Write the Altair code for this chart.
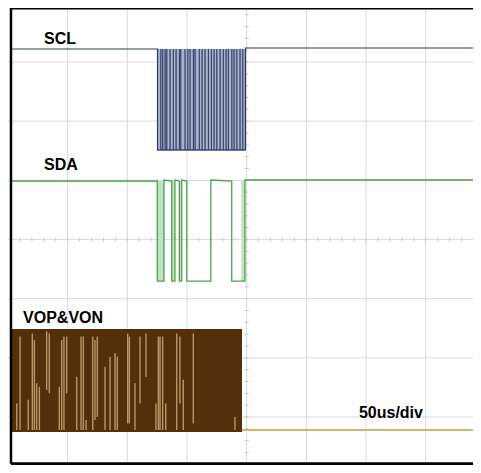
import altair as alt
import pandas as pd

# ---- scope geometry (time in us, vertical in divisions) ----
T_MAX = 389.7
Y_MAX = 7.912
Y_MIN = 0.189
grid_t = [50, 100, 150, 200, 250, 300, 350]
grid_v = [1, 2, 3, 4, 5, 6, 7]
frame_left_t = 2.5
frame_bottom_v = 0.21

# ---- SCL ----
scl_hi_before, scl_hi_after, scl_lo = 7.219, 7.236, 5.512
scl_fall, scl_rise = 125.3, 199.0
scl_pulses = [128.0, 129.6, 131.6, 133.0, 135.8, 138.5, 140.8, 143.6, 144.7, 148.3,
              150.6, 152.5, 155.3, 156.7, 160.3, 162.6, 165.1, 167.9, 170.4, 172.6,
              174.9, 177.7, 180.4, 182.7, 184.6, 187.5, 189.4, 191.7, 194.4, 196.7]

# ---- SDA ----
sda_hi_before, sda_hi_after, sda_lo = 4.988, 5.005, 3.298
sda_low_start = [125.1, 137.2, 143.6, 149.8, 187.5]
sda_low_end = [130.7, 139.9, 145.6, 170.0, 198.6]
sda_fill_start = [125.1, 137.2, 143.6, 195.5]
sda_fill_end = [130.7, 139.9, 145.6, 198.6]

# ---- VOP&VON ----
vop_top, vop_bot, vop_end, vop_after = 2.487, 0.746, 196.1, 0.78
vop_line_t = [7.3, 10.1, 17.0, 20.4, 22.1, 24.0, 26.3, 32.4, 34.6, 43.0, 45.0, 46.9,
              49.2, 57.6, 61.2, 63.1, 65.4, 71.0, 72.9, 74.8, 81.3, 85.5, 89.7, 91.6,
              100.3, 101.7, 106.4, 110.6, 115.6, 124.0, 126.0, 127.4, 129.6, 132.2,
              141.4, 144.1, 146.9, 155.3, 190.2]
vop_line_top = [1.23, 2.36, 1.29, 2.41, 2.30, 1.57, 1.51, 2.45, 2.41, 1.51, 2.30, 2.36,
                2.36, 1.68, 2.36, 2.36, 0.95, 2.36, 2.30, 2.36, 1.85, 2.02, 2.08, 2.02,
                2.41, 2.36, 1.57, 2.36, 2.41, 1.23, 2.36, 2.36, 2.36, 1.23,
                2.41, 2.36, 1.63, 2.41, 1.00]
vop_line_bot = [0.78, 0.78, 0.78, 0.78, 0.78, 0.78, 0.78, 1.46, 1.40, 0.78, 0.78, 0.78,
                1.40, 0.78, 0.78, 0.78, 0.78, 0.78, 0.95, 1.00, 0.78, 0.78, 0.78, 0.78,
                0.89, 0.89, 0.78, 1.23, 1.68, 0.78, 0.78, 0.78, 0.78, 0.78,
                0.78, 1.23, 0.78, 0.89, 0.78]

# ---- labels ----
label_text = ["SCL", "SDA", "VOP&VON", "50us/div"]
label_t = [30.2, 30.2, 12.6, 294.1]
label_v = [7.30, 5.174, 2.588, 0.983]

xs = alt.Scale(domain=[0, T_MAX], nice=False, zero=False)
ys = alt.Scale(domain=[Y_MIN, Y_MAX], nice=False, zero=False)


def X(f="t"):
    return alt.X(f"{f}:Q", scale=xs, axis=None)


def Y(f="v"):
    return alt.Y(f"{f}:Q", scale=ys, axis=None)


def trace_df(pts):
    return pd.DataFrame({"t": [p[0] for p in pts], "v": [p[1] for p in pts],
                         "i": list(range(len(pts)))})


# grid
vgrid = alt.Chart(pd.DataFrame({"t": grid_t})).mark_rule(color="#dadada", strokeWidth=1).encode(x=X())
hgrid = alt.Chart(pd.DataFrame({"v": grid_v})).mark_rule(color="#dadada", strokeWidth=1).encode(y=Y())

# minor ticks on the centre lines
tick_v = [k / 5 for k in range(2, 40)]
tick_t = [k * 10 for k in range(1, 39)]
vticks = alt.Chart(pd.DataFrame({"v": tick_v, "a": 198.3, "b": 201.7})).mark_rule(
    color="#c8c8c8").encode(y=Y(), x=X("a"), x2="b:Q")
hticks = alt.Chart(pd.DataFrame({"t": tick_t, "a": 3.966, "b": 4.034})).mark_rule(
    color="#c8c8c8").encode(x=X(), y=Y("a"), y2="b:Q")

# SCL: idle trace + burst drawn thinner over a grey-blue persistence fill
scl_idle_pts = [(frame_left_t, scl_hi_before), (scl_fall, scl_hi_before), (scl_fall, scl_lo),
                (scl_rise, scl_lo), (scl_rise, scl_hi_after), (T_MAX, scl_hi_after)]
burst_pts = [(scl_fall, scl_lo)]
for p in scl_pulses:
    burst_pts += [(p, scl_lo), (p, scl_hi_before), (p + 0.15, scl_hi_before), (p + 0.15, scl_lo)]
burst_pts += [(scl_rise, scl_lo)]
scl_fill = alt.Chart(pd.DataFrame({"a": [scl_fall], "b": [scl_rise], "c": [scl_lo], "d": [scl_hi_before]})).mark_rect(
    color="#aab2c5").encode(x=X("a"), x2="b:Q", y=Y("c"), y2="d:Q")
scl_line = alt.Chart(trace_df(scl_idle_pts)).mark_line(color="#2a3868", strokeWidth=1.2).encode(
    x=X(), y=Y(), order="i:Q")
scl_burst = alt.Chart(trace_df(burst_pts)).mark_line(color="#2a3868", strokeWidth=0.7).encode(
    x=X(), y=Y(), order="i:Q")

# SDA
sda_pts = [(frame_left_t, sda_hi_before)]
for a, b in zip(sda_low_start, sda_low_end):
    sda_pts += [(a, sda_hi_before), (a, sda_lo), (b, sda_lo), (b, sda_hi_after)]
sda_pts += [(T_MAX, sda_hi_after)]
sda_fill = alt.Chart(pd.DataFrame({"a": sda_fill_start, "b": sda_fill_end, "c": sda_lo, "d": sda_hi_before})).mark_rect(
    color="#c4e0c4").encode(x=X("a"), x2="b:Q", y=Y("c"), y2="d:Q")
sda_line = alt.Chart(trace_df(sda_pts)).mark_line(color="#4aa34a", strokeWidth=1.3).encode(
    x=X(), y=Y(), order="i:Q")

# VOP&VON
vop_block = alt.Chart(pd.DataFrame({"a": [frame_left_t], "b": [vop_end], "c": [vop_bot], "d": [vop_top]})).mark_rect(
    color="#53300a").encode(x=X("a"), x2="b:Q", y=Y("c"), y2="d:Q")
vop_lines = alt.Chart(pd.DataFrame({"t": vop_line_t, "a": vop_line_bot, "b": vop_line_top})).mark_rule(
    color="#c9a878", strokeWidth=1.4, opacity=0.85).encode(x=X(), y=Y("a"), y2="b:Q")
vop_flat = alt.Chart(pd.DataFrame({"t": [vop_end, T_MAX], "v": [vop_after, vop_after]})).mark_line(
    color="#cbb86c", strokeWidth=2).encode(x=X(), y=Y())

# frame (left, top, bottom; right side is cut off)
frame_l = alt.Chart(pd.DataFrame({"t": [frame_left_t], "a": [frame_bottom_v], "b": [Y_MAX]})).mark_rule(
    color="black", strokeWidth=2.5).encode(x=X(), y=Y("a"), y2="b:Q")
frame_h = alt.Chart(pd.DataFrame({"v": [Y_MAX, frame_bottom_v], "a": frame_left_t, "b": T_MAX})).mark_rule(
    color="black", strokeWidth=3).encode(y=Y(), x=X("a"), x2="b:Q")

labels = alt.Chart(pd.DataFrame({"s": label_text, "t": label_t, "v": label_v})).mark_text(
    align="left", baseline="alphabetic", font="Liberation Sans", fontWeight="bold",
    fontSize=16, color="black").encode(x=X(), y=Y(), text="s:N")

chart = alt.layer(
    vgrid, hgrid, vticks, hticks,
    scl_fill, scl_burst, scl_line, sda_fill, sda_line,
    vop_block, vop_lines, vop_flat,
    frame_l, frame_h, labels,
).properties(width=465, height=457, autosize=alt.AutoSizeParams(type="none"), padding=0,
             background="white").configure_view(stroke=None)

chart.save("out.html", embed_options={"renderer": "svg", "actions": False})
